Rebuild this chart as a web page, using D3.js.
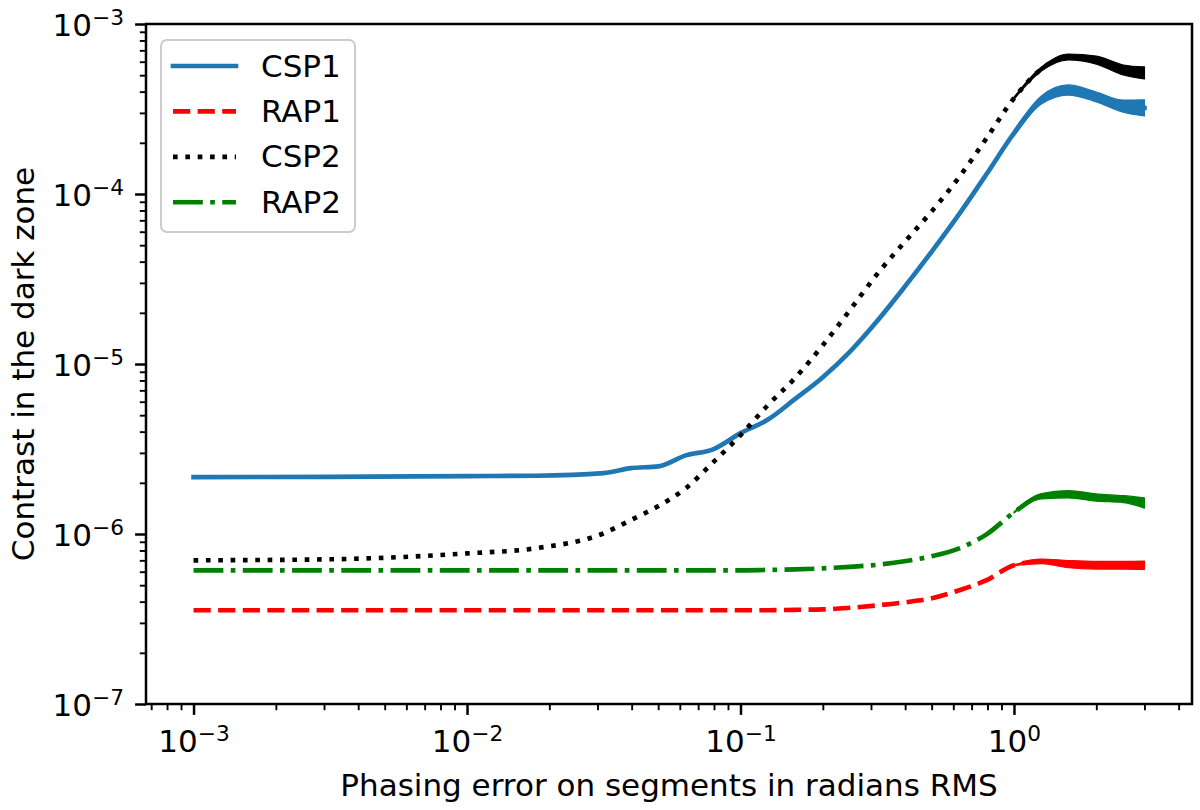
<!DOCTYPE html>
<html><head><meta charset="utf-8">
<script src="https://cdn.jsdelivr.net/npm/d3@7"></script>
<style>
body{margin:0;background:#fff}
text{font-family:"DejaVu Sans",sans-serif;fill:#000}
</style>
</head><body>
<svg id="chart" width="1200" height="810"></svg>
<script>
// ---- data ----
const phaseError = [0.001, 0.00316, 0.01, 0.0178, 0.0316, 0.0398, 0.0501, 0.0631, 0.0794,
  0.1, 0.126, 0.158, 0.2, 0.251, 0.316, 0.398, 0.501, 0.631, 0.794,
  1.0, 1.26, 1.58, 2.0, 2.51, 3.0];
const csp1 = [2.16e-6, 2.17e-6, 2.19e-6, 2.20e-6, 2.28e-6, 2.44e-6, 2.50e-6, 2.90e-6, 3.15e-6,
  3.92e-6, 4.71e-6, 6.21e-6, 8.37e-6, 1.18e-5, 1.79e-5, 2.84e-5, 4.60e-5, 7.64e-5, 1.31e-4,
  2.28e-4, 3.57e-4, 4.09e-4, 3.72e-4, 3.29e-4, 3.21e-4];
const rap1 = [3.56e-7, 3.56e-7, 3.56e-7, 3.56e-7, 3.56e-7, 3.56e-7, 3.56e-7, 3.56e-7, 3.56e-7,
  3.56e-7, 3.56e-7, 3.58e-7, 3.60e-7, 3.68e-7, 3.80e-7, 3.96e-7, 4.19e-7, 4.67e-7, 5.35e-7,
  6.55e-7, 6.90e-7, 6.64e-7, 6.55e-7, 6.55e-7, 6.55e-7];
const csp2 = [7.00e-7, 7.10e-7, 7.69e-7, 8.24e-7, 1.01e-6, 1.21e-6, 1.46e-6, 1.86e-6, 2.64e-6,
  3.81e-6, 5.73e-6, 8.24e-6, 1.29e-5, 2.07e-5, 3.38e-5, 5.21e-5, 7.93e-5, 1.26e-4, 2.13e-4,
  3.66e-4, 5.43e-4, 6.40e-4, 6.14e-4, 5.36e-4, 5.15e-4];
const rap2 = [6.11e-7, 6.11e-7, 6.11e-7, 6.11e-7, 6.11e-7, 6.11e-7, 6.11e-7, 6.11e-7, 6.11e-7,
  6.11e-7, 6.15e-7, 6.19e-7, 6.28e-7, 6.41e-7, 6.59e-7, 6.91e-7, 7.40e-7, 8.24e-7, 9.95e-7,
  1.34e-6, 1.67e-6, 1.71e-6, 1.64e-6, 1.60e-6, 1.52e-6];
// noise envelope of the tails (high phasing error), upper and lower edges
const tailError = [1.0, 1.26, 1.58, 2.0, 2.51, 3.0];
const csp1Hi = [2.37e-4, 3.77e-4, 4.38e-4, 3.98e-4, 3.57e-4, 3.58e-4];
const csp1Lo = [2.19e-4, 3.38e-4, 3.82e-4, 3.48e-4, 3.03e-4, 2.88e-4];
const rap1Hi = [6.58e-7, 7.12e-7, 6.98e-7, 6.90e-7, 6.90e-7, 6.92e-7];
const rap1Lo = [6.52e-7, 6.70e-7, 6.33e-7, 6.22e-7, 6.22e-7, 6.20e-7];
const csp2Hi = [3.71e-4, 5.58e-4, 6.66e-4, 6.48e-4, 5.74e-4, 5.59e-4];
const csp2Lo = [3.61e-4, 5.29e-4, 6.15e-4, 5.81e-4, 5.01e-4, 4.75e-4];
const rap2Hi = [1.35e-6, 1.73e-6, 1.80e-6, 1.72e-6, 1.68e-6, 1.63e-6];
const rap2Lo = [1.33e-6, 1.61e-6, 1.63e-6, 1.56e-6, 1.53e-6, 1.42e-6];
const seriesNames = ["CSP1", "RAP1", "CSP2", "RAP2"];
const xTickExponents = [-3, -2, -1, 0];
const yTickExponents = [-7, -6, -5, -4, -3];
const xLabel = "Phasing error on segments in radians RMS";
const yLabel = "Contrast in the dark zone";

// ---- layout / style ----
const L = 146, R = 1192, T = 24, B = 704;
const FS = 31, LW = 4.65;
const styles = {
  CSP1: {color: "#1f77b4", dash: null},
  RAP1: {color: "#ff0000", dash: "17.2 7.4"},
  CSP2: {color: "#000000", dash: "4.65 7.7"},
  RAP2: {color: "#008000", dash: "29.8 7.4 4.65 7.4"}
};
const seriesValues = {CSP1: csp1, RAP1: rap1, CSP2: csp2, RAP2: rap2};
const seriesBands = {CSP1: [csp1Hi, csp1Lo], RAP1: [rap1Hi, rap1Lo], CSP2: [csp2Hi, csp2Lo], RAP2: [rap2Hi, rap2Lo]};

const svg = d3.select("#chart");
const lx0 = Math.log10(d3.min(phaseError)), lx1 = Math.log10(d3.max(phaseError));
const m = 0.05 * (lx1 - lx0);
const x = d3.scaleLog().domain([Math.pow(10, lx0 - m), Math.pow(10, lx1 + m)]).range([L, R]);
const y = d3.scaleLog().domain([1e-7, 1e-3]).range([B, T]);

function minorTicks(scale) {
  const [a, b] = scale.domain();
  const out = [];
  for (let e = Math.floor(Math.log10(a)); e <= Math.ceil(Math.log10(b)); e++) {
    for (let k = 2; k <= 9; k++) {
      const v = k * Math.pow(10, e);
      if (v >= a && v <= b) out.push(v);
    }
  }
  return out;
}
function expLabel(e) { return e < 0 ? "\u2212" + Math.abs(e) : String(e); }

const gx = svg.append("g").attr("transform", `translate(0,${B})`);
const gxMinor = gx.append("g").call(d3.axisBottom(x).tickValues(minorTicks(x)).tickSize(6.2).tickSizeOuter(0).tickFormat(""));
gxMinor.selectAll(".tick line").attr("stroke-width", 1.9).attr("stroke", "#000");
const gxMajor = gx.append("g").call(d3.axisBottom(x).tickValues(xTickExponents.map(e => Math.pow(10, e))).tickSize(10.9).tickSizeOuter(0).tickFormat(""));
gxMajor.selectAll(".tick line").attr("stroke-width", 2.5).attr("stroke", "#000");
gx.selectAll(".domain").remove();
gxMajor.selectAll(".tick").each(function(d, i) {
  const t = d3.select(this).append("text").attr("y", 48).attr("text-anchor", "middle")
    .attr("font-size", FS).attr("fill", "#000");
  t.append("tspan").text("10");
  t.append("tspan").attr("font-size", FS * 0.7).attr("dy", -11).text(expLabel(xTickExponents[i]));
});

const gy = svg.append("g").attr("transform", `translate(${L},0)`);
const gyMinor = gy.append("g").call(d3.axisLeft(y).tickValues(minorTicks(y)).tickSize(6.2).tickSizeOuter(0).tickFormat(""));
gyMinor.selectAll(".tick line").attr("stroke-width", 1.9).attr("stroke", "#000");
const gyMajor = gy.append("g").call(d3.axisLeft(y).tickValues(yTickExponents.map(e => Math.pow(10, e))).tickSize(10.9).tickSizeOuter(0).tickFormat(""));
gyMajor.selectAll(".tick line").attr("stroke-width", 2.5).attr("stroke", "#000");
gy.selectAll(".domain").remove();
gyMajor.selectAll(".tick").each(function(d, i) {
  const t = d3.select(this).append("text").attr("x", -22).attr("y", 11.5).attr("text-anchor", "end")
    .attr("font-size", FS).attr("fill", "#000");
  t.append("tspan").text("10");
  t.append("tspan").attr("font-size", FS * 0.7).attr("dy", -11).text(expLabel(yTickExponents[i]));
});

// lines + noisy tail bands
const line = d3.line().curve(d3.curveMonotoneX);
const area = d3.area().curve(d3.curveMonotoneX);
const plot = svg.append("g");
seriesNames.forEach(name => {
  const vals = seriesValues[name];
  const pts = phaseError.map((p, i) => [x(p), y(vals[i])]);
  const st = styles[name];
  plot.append("path").attr("d", line(pts)).attr("fill", "none")
    .attr("stroke", st.color).attr("stroke-width", LW)
    .attr("stroke-linejoin", "round")
    .attr("stroke-linecap", st.dash ? "butt" : "square")
    .attr("stroke-dasharray", st.dash);
  const [hi, lo] = seriesBands[name];
  const bandPts = tailError.map((p, i) => ({x: x(p), y0: y(lo[i]), y1: y(hi[i])}));
  plot.append("path")
    .attr("d", area.x(d => d.x).y0(d => d.y0).y1(d => d.y1)(bandPts))
    .attr("fill", st.color).attr("stroke", st.color).attr("stroke-width", 1.2)
    .attr("stroke-linejoin", "round");
});

// frame
svg.append("rect").attr("x", L).attr("y", T).attr("width", R - L).attr("height", B - T)
  .attr("fill", "none").attr("stroke", "#000").attr("stroke-width", 2.5);

// axis labels
svg.append("text").attr("x", (L + R) / 2).attr("y", 796).attr("text-anchor", "middle")
  .attr("font-size", FS).text(xLabel);
svg.append("text").attr("transform", `translate(33.5,${(T + B) / 2}) rotate(-90)`)
  .attr("text-anchor", "middle").attr("font-size", FS).text(yLabel);

// legend
const lg = svg.append("g");
lg.append("rect").attr("x", 161).attr("y", 40).attr("width", 194).attr("height", 192)
  .attr("rx", 6).attr("ry", 6).attr("fill", "#fff").attr("fill-opacity", 0.8)
  .attr("stroke", "#cccccc").attr("stroke-width", 2);
seriesNames.forEach((name, i) => {
  const cy = 66 + i * 45.4;
  const st = styles[name];
  lg.append("line").attr("x1", 173).attr("x2", 236).attr("y1", cy).attr("y2", cy)
    .attr("stroke", st.color).attr("stroke-width", LW)
    .attr("stroke-linecap", st.dash ? "butt" : "square")
    .attr("stroke-dasharray", st.dash);
  lg.append("text").attr("x", 261).attr("y", cy + 10.5).attr("font-size", FS).text(name);
});
</script>
</body></html>
